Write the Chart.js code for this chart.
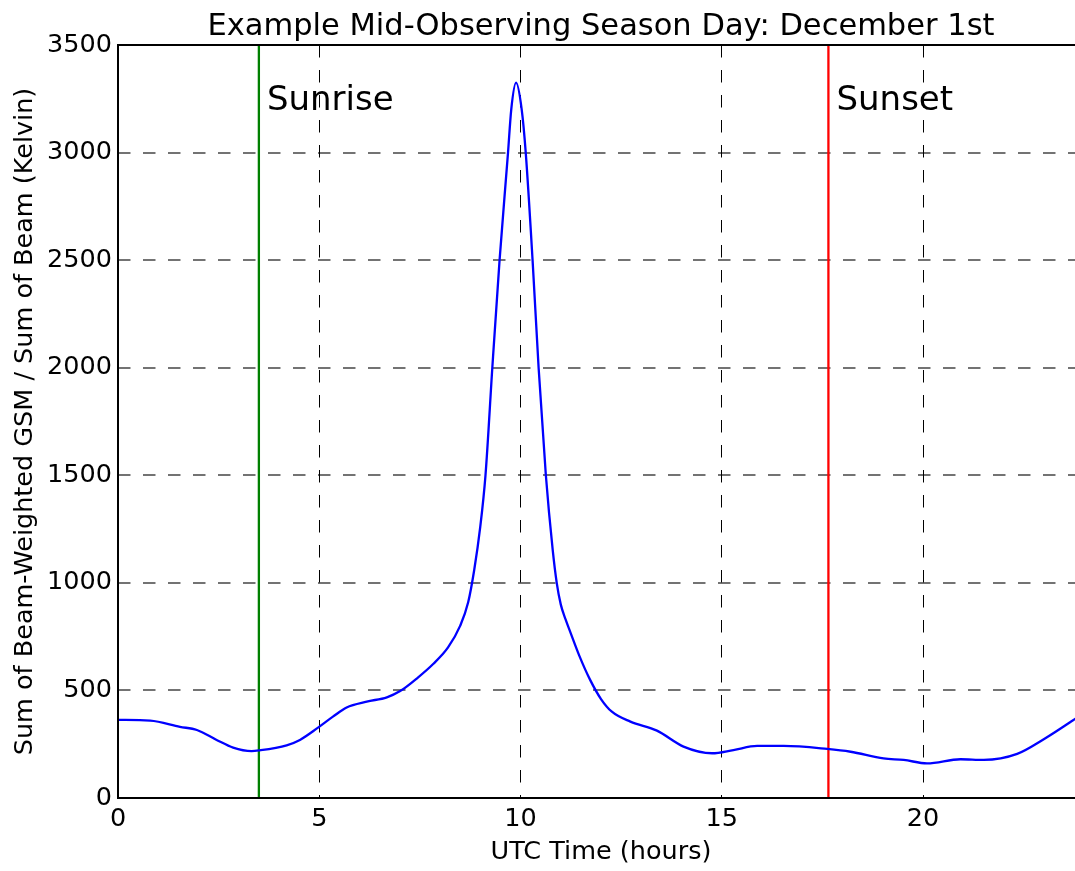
<!DOCTYPE html>
<html>
<head>
<meta charset="utf-8">
<script src="https://cdn.jsdelivr.net/npm/chart.js@4.4.1/dist/chart.umd.min.js"></script>
<style>
    html, body { margin: 0; padding: 0; background: #fff; }
    #wrap { width: 1075px; height: 871px; overflow: hidden; position: relative; }
    #chart { display: block; }
</style>
</head>
<body>
<div id="wrap"><canvas id="chart" width="1085" height="871"></canvas></div>
<script>
// Beam-weighted sky temperature over one day
const hours = [
    0.00, 0.80, 1.54, 1.96, 2.45, 2.86, 3.32, 3.50, 4.19, 4.52,
    4.97, 5.34, 5.68, 6.18, 6.68, 7.01, 7.45, 7.83, 8.20, 8.50,
    8.70, 8.85, 9.00, 9.13, 9.30, 9.48, 9.69, 9.77, 9.89, 10.03,
    10.13, 10.30, 10.45, 10.63, 10.80, 10.90, 11.00, 11.12, 11.24, 11.46,
    11.73, 12.00, 12.27, 12.73, 13.39, 14.05, 14.76, 15.29, 15.88, 16.54,
    17.62, 18.20, 19.02, 19.52, 20.10, 20.93, 21.51, 22.34, 23.00, 23.71,
    23.95,
];
const kelvin = [
    363, 360, 331, 316, 270, 234, 218, 221, 245, 270,
    327, 378, 421, 448, 468, 497, 560, 623, 700, 800,
    910, 1060, 1260, 1500, 2000, 2500, 3000, 3200, 3325, 3200,
    3000, 2500, 2000, 1500, 1153, 1000, 900, 830, 770, 662,
    549, 460, 401, 355, 313, 239, 208, 223, 242, 242,
    228, 215, 184, 177, 161, 180, 177, 205, 273, 359,
    390,
];

const sunriseHour = 3.5;
const sunsetHour = 17.65;
const markerLabelOffset = 0.2;
const markerLabelValue = 3200;

const xTickValues = [0, 5, 10, 15, 20];
const yTickValues = [0, 500, 1000, 1500, 2000, 2500, 3000, 3500];
const xRange = [0, 24];
const yRange = [0, 3500];

const titleText = 'Example Mid-Observing Season Day: December 1st';
const FONT = "'DejaVu Sans', 'Liberation Sans', sans-serif";

const curve = hours.map((h, i) => ({ x: h, y: kelvin[i] }));
const vline = h => [{ x: h, y: yRange[0] }, { x: h, y: yRange[1] }];

// title over the axes, spines, Sunrise / Sunset text
const framePlugin = {
    id: 'frame',
    afterDatasetsDraw(chart) {
        const { ctx, chartArea: a, scales } = chart;
        ctx.save();
        ctx.fillStyle = '#000';

        ctx.font = `30.5px ${FONT}`;
        ctx.textAlign = 'center';
        ctx.textBaseline = 'alphabetic';
        ctx.fillText(titleText, (a.left + a.right) / 2, 35);

        ctx.font = `34px ${FONT}`;
        ctx.textAlign = 'left';
        const ly = scales.y.getPixelForValue(markerLabelValue);
        ctx.fillText('Sunrise', scales.x.getPixelForValue(sunriseHour + markerLabelOffset), ly);
        ctx.fillText('Sunset', scales.x.getPixelForValue(sunsetHour + markerLabelOffset), ly);

        ctx.strokeStyle = '#000';
        ctx.lineWidth = 2;
        ctx.strokeRect(a.left, a.top, a.right - a.left, a.bottom - a.top);
        ctx.restore();
    },
};

new Chart(document.getElementById('chart').getContext('2d'), {
    type: 'line',
    data: {
        datasets: [
            {
                data: curve,
                borderColor: '#0000ff',
                borderWidth: 2.3,
                pointRadius: 0,
                cubicInterpolationMode: 'monotone',
                fill: false,
            },
            {
                data: vline(sunriseHour),
                borderColor: '#008000',
                borderWidth: 2.3,
                pointRadius: 0,
            },
            {
                data: vline(sunsetHour),
                borderColor: '#ff0000',
                borderWidth: 2.3,
                pointRadius: 0,
            },
        ],
    },
    options: {
        responsive: false,
        animation: false,
        layout: { padding: { left: 0, right: 1, top: 45, bottom: 0 } },
        plugins: {
            legend: { display: false },
            tooltip: { enabled: false },
            title: { display: false },
        },
        scales: {
            x: {
                type: 'linear',
                min: xRange[0],
                max: xRange[1],
                afterBuildTicks: s => { s.ticks = xTickValues.map(v => ({ value: v })); },
                afterFit: s => { s.height = 73; },
                ticks: {
                    color: '#000',
                    font: { family: FONT, size: 25.5 },
                    padding: 6,
                    maxRotation: 0,
                    callback: v => String(v),
                },
                grid: { color: '#000', lineWidth: 1, drawTicks: false },
                border: { display: false, dash: [12.5, 12.5] },
                title: {
                    display: true,
                    text: 'UTC Time (hours)',
                    color: '#000',
                    font: { family: FONT, size: 25.5 },
                    padding: { top: 0, bottom: 3 },
                },
            },
            y: {
                type: 'linear',
                min: yRange[0],
                max: yRange[1],
                afterBuildTicks: s => { s.ticks = yTickValues.map(v => ({ value: v })); },
                afterFit: s => { s.width = 118; },
                ticks: {
                    color: '#000',
                    font: { family: FONT, size: 25.5 },
                    padding: 6,
                    callback: v => String(v),
                },
                grid: { color: 'rgba(0,0,0,0.55)', lineWidth: 2, drawTicks: false },
                border: { display: false, dash: [12.5, 12.5] },
                title: {
                    display: true,
                    text: 'Sum of Beam-Weighted GSM / Sum of Beam (Kelvin)',
                    color: '#000',
                    font: { family: FONT, size: 25.5 },
                    padding: { top: 10, bottom: 0 },
                },
            },
        },
    },
    plugins: [framePlugin],
});
</script>
</body>
</html>
